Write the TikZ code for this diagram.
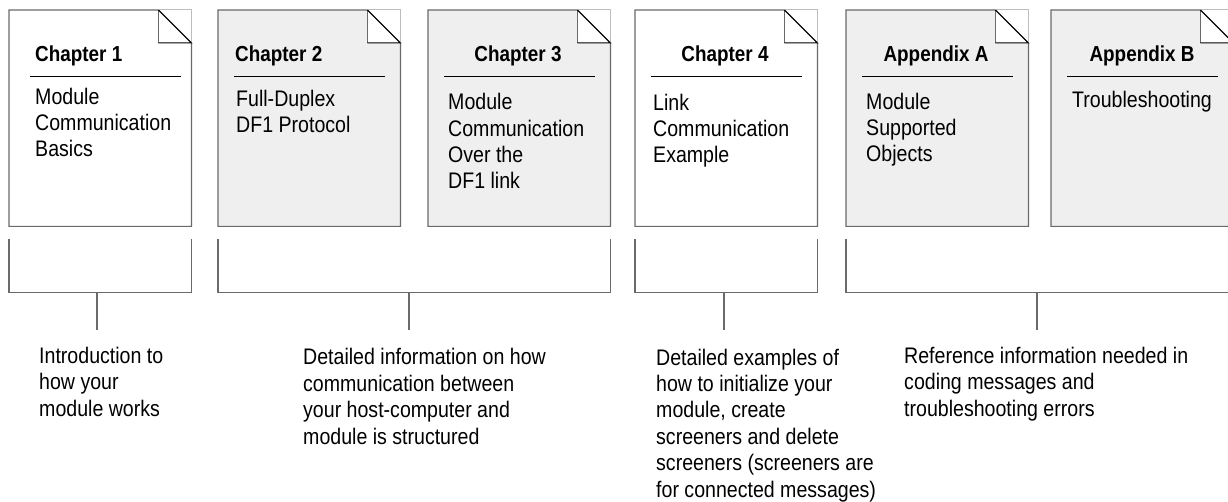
\documentclass[tikz,border=0pt]{standalone}
\usepackage{fontspec}
\setmainfont[FakeStretch=0.87]{Liberation Sans}
\usepackage{tikz}
\usetikzlibrary{positioning, calc}
\definecolor{pagegray}{HTML}{EFEFEF}
\definecolor{edgegray}{HTML}{6A6A6A}
\definecolor{foldgray}{HTML}{BDBDBD}
\tikzstyle{page} = [rectangle, minimum width=182pt, minimum height=216pt, inner sep=0pt, anchor=north west]
\tikzstyle{outline} = [draw=edgegray, line width=1.2pt]
\tikzstyle{rule} = [draw=black, line width=0.9pt]
\tikzstyle{title} = [inner sep=0pt, anchor=base, font=\fontsize{21.7}{26}\selectfont\bfseries]
\tikzstyle{body} = [inner sep=0pt, anchor=base west, align=left, font=\fontsize{22.5}{26.4}\selectfont]
\tikzstyle{bracket} = [draw=edgegray, line width=1.1pt]
% page with folded corner, drawn on a page node
\newcommand{\dogear}[2]{%
  \draw[outline, fill=#2] (#1.south west) -- (#1.north west) -- ([xshift=-33pt]#1.north east)
    -- ([yshift=-33pt]#1.north east) -- (#1.south east) -- cycle;
  \draw[foldgray, line width=1pt] ([xshift=-33pt]#1.north east) -- (#1.north east) -- ([yshift=-33pt]#1.north east);
  \fill[white] ([xshift=-33pt]#1.north east) -- ([xshift=-33pt,yshift=-33pt]#1.north east) -- ([yshift=-33pt]#1.north east) -- cycle;
  \draw[edgegray, line width=1pt] ([xshift=-33pt]#1.north east) -- ([xshift=-33pt,yshift=-33pt]#1.north east);
  \draw[black, line width=1pt] ([xshift=-33pt,yshift=-33pt]#1.north east) -- ([yshift=-33pt]#1.north east)
    -- ([xshift=-33pt]#1.north east);
}

\begin{document}
\begin{tikzpicture}[x=1pt, y=-1pt]
	\useasboundingbox (0,0) rectangle (1228,502);
	\clip (0,0) rectangle (1228,502);
	
	%pages
	\node (ch1) [page] at (9,10) {};
	\node (ch2) [page] at (218,10) {};
	\node (ch3) [page] at (428,10) {};
	\node (ch4) [page] at (635,10) {};
	\node (appA) [page] at (846,10) {};
	\node (appB) [page] at (1051,10) {};
	\dogear{ch1}{white}
	\dogear{ch2}{pagegray}
	\dogear{ch3}{pagegray}
	\dogear{ch4}{white}
	\dogear{appA}{pagegray}
	\dogear{appB}{pagegray}
	
	%titles and rules
	\node (t1) [title, anchor=base west] at (35,62) {Chapter 1};
	\node (t2) [title, anchor=base west] at (235,62) {Chapter 2};
	\node (t3) [title] at (518,62) {Chapter 3};
	\node (t4) [title] at (725,62) {Chapter 4};
	\node (tA) [title] at (936,62) {Appendix A};
	\node (tB) [title] at (1142,62) {Appendix B};
	\draw [rule] ($(ch1.north west)+(21,66)$) -- ++(151,0);
	\draw [rule] ($(ch2.north west)+(16,66)$) -- ++(151,0);
	\draw [rule] ($(ch3.north west)+(16,66)$) -- ++(151,0);
	\draw [rule] ($(ch4.north west)+(16,66)$) -- ++(151,0);
	\draw [rule] ($(appA.north west)+(16,66)$) -- ++(151,0);
	\draw [rule] ($(appB.north west)+(16,66)$) -- ++(151,0);
	
	%page contents (placed at the baseline of the last line)
	\node (c1) [body] at (35,157) {Module\\Communication\\Basics};
	\node (c2) [body] at (236,133) {Full-Duplex\\DF1 Protocol};
	\node (c3) [body] at (448,189) {Module\\Communication\\Over the\\DF1 link};
	\node (c4) [body] at (653,163) {Link\\Communication\\Example};
	\node (cA) [body] at (866,162) {Module\\Supported\\Objects};
	\node (cB) [body] at (1072,108) {Troubleshooting};
	
	%descriptions
	\node (d1) [body] at (39,416) {Introduction to\\how your\\module works};
	\node (d2) [body] at (303,444) {Detailed information on how\\communication between\\your host-computer and\\module is structured};
	\node (d3) [body] at (656,497) {Detailed examples of\\how to initialize your\\module, create\\screeners and delete\\screeners (screeners are\\for connected messages)};
	\node (d4) [body] at (904,416) {Reference information needed in\\coding messages and\\troubleshooting errors};
	
	%brackets
	\draw [bracket] ($(ch1.south west)+(0,13)$) -- ++(0,53) -| ($(ch1.south east)+(0,13)$);
	\draw [bracket] ($(ch2.south west)+(0,13)$) -- ++(0,53) -| ($(ch3.south east)+(0,13)$);
	\draw [bracket] ($(ch4.south west)+(0,13)$) -- ++(0,53) -| ($(ch4.south east)+(0,13)$);
	\draw [bracket] ($(appA.south west)+(0,13)$) -- ++(0,53) -| ($(appB.south east)+(0,13)$);
	\coordinate (s1) at (97,292);
	\coordinate (s2) at (409,292);
	\coordinate (s3) at (724,292);
	\coordinate (s4) at (1037,292);
	\draw [bracket] (s1) -- ++(0,38);
	\draw [bracket] (s2) -- ++(0,38);
	\draw [bracket] (s3) -- ++(0,38);
	\draw [bracket] (s4) -- ++(0,38);
	
\end{tikzpicture}
\end{document}
